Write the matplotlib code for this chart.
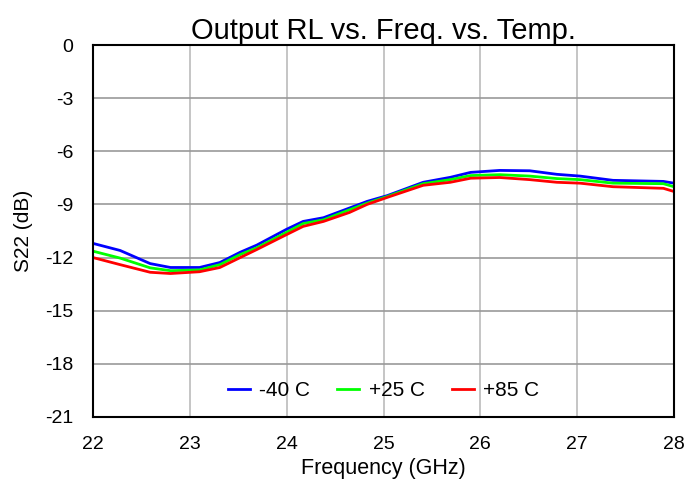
import numpy as np
import matplotlib
matplotlib.use("Agg")
import matplotlib.pyplot as plt

plt.rcParams['font.family'] = ['Liberation Sans', 'DejaVu Sans']
plt.rcParams['axes.unicode_minus'] = False

# Frequency points (GHz) and S22 (dB)
freq = [22.0, 22.28, 22.59, 22.8, 23.1, 23.31, 23.52, 23.69, 24.0, 24.17, 24.38,
        24.65, 24.83, 25.04, 25.41, 25.69, 25.9, 26.2, 26.51, 26.79, 27.03,
        27.37, 27.89, 28.0]
s22_m40 = [-11.2, -11.6, -12.34, -12.56, -12.56, -12.28, -11.7, -11.3, -10.4, -9.96, -9.75,
           -9.2, -8.83, -8.5, -7.75, -7.47, -7.19, -7.08, -7.1, -7.3, -7.4,
           -7.64, -7.7, -7.8]
s22_p25 = [-11.64, -12.03, -12.58, -12.74, -12.7, -12.4, -11.83, -11.45, -10.57, -10.08, -9.87,
           -9.3, -8.93, -8.55, -7.83, -7.6, -7.37, -7.32, -7.4, -7.54, -7.6,
           -7.8, -7.83, -8.0]
s22_p85 = [-12.0, -12.4, -12.83, -12.9, -12.8, -12.56, -12.0, -11.55, -10.7, -10.24, -9.96,
           -9.45, -9.0, -8.6, -7.92, -7.75, -7.52, -7.48, -7.6, -7.75, -7.8,
           -8.0, -8.09, -8.27]
labels = ['-40 C', '+25 C', '+85 C']
colors = ['#0000ff', '#00ff00', '#ff0000']

fig = plt.figure(figsize=(6.86, 4.82), dpi=100)
ax = fig.add_axes([0.1356, 0.1349, 0.8469, 0.7717])

for ys, lab, c in zip([s22_m40, s22_p25, s22_p85], labels, colors):
    ax.plot(freq, ys, color=c, lw=2, label=lab)

ax.set_xlim(22, 28)
ax.set_ylim(-21, 0)
ax.set_xticks(np.arange(22, 29, 1))
ax.set_yticks(np.arange(-21, 1, 3))

# horizontal grid darker than vertical grid
ax.yaxis.grid(True, color='#999999', lw=1.2)
ax.xaxis.grid(True, color='#bbbbbb', lw=1.2)
ax.set_axisbelow(True)

for sp in ax.spines.values():
    sp.set_color('black')
    sp.set_linewidth(1.5)

ax.tick_params(length=0, labelsize=14)
ax.tick_params(axis='x', pad=14)
ax.tick_params(axis='y', pad=14)
ax.set_xlabel('Frequency (GHz)', fontsize=15.5, labelpad=3)
ax.set_ylabel('S22 (dB)', fontsize=15, labelpad=9)
ax.set_title('Output RL vs. Freq. vs. Temp.', fontsize=21, pad=2)

ax.legend(loc='center', bbox_to_anchor=(0.5, 0.07), ncol=3, frameon=False,
          fontsize=15, handlelength=1.05, columnspacing=1.3, handletextpad=0.45)

fig.savefig('out.png', dpi=100)
